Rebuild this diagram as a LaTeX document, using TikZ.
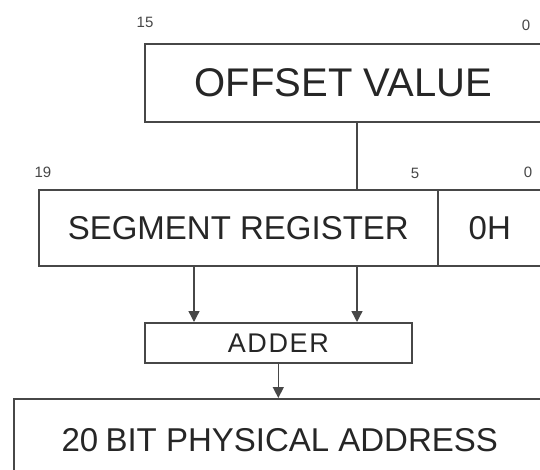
\documentclass[tikz,border=0pt]{standalone}
\usepackage{fontspec}
\setmainfont{Liberation Sans}
\usetikzlibrary{arrows.meta}
\definecolor{ink}{HTML}{262626}
\definecolor{edge}{HTML}{474747}
\tikzset{
  regbox/.style={draw=edge, line width=1.6pt, fill=white, anchor=north west,
    inner sep=0pt, text=ink},
  bitlbl/.style={text=ink!85, font=\fontsize{15}{15}\selectfont, inner sep=0pt},
  flow/.style={draw=edge, line width=1.4pt,
    -{Triangle[length=11pt, width=11pt]}},
  wire/.style={draw=edge, line width=1.4pt}
}
\begin{document}
\begin{tikzpicture}[x=1pt, y=-1pt]
  \useasboundingbox[fill=white] (0,0) rectangle (540,470);

  % offset register
  \node[regbox, minimum width=397pt, minimum height=78pt,
        font=\fontsize{40}{40}\selectfont] (offset) at (144,43) {OFFSET VALUE};
  \node[bitlbl] (o15) at (145,22) {15};
  \node[bitlbl] (o0) at (526,25) {0};

  % segment register with the appended zero nibble
  \node[regbox, minimum width=399pt, minimum height=76pt,
        font=\fontsize{33}{33}\selectfont] (seg) at (38,189) {SEGMENT REGISTER};
  \node[regbox, minimum width=104pt, minimum height=76pt,
        font=\fontsize{33}{33}\selectfont] (zero) at (437,189) {0H};
  \node[bitlbl] (s19) at (43,172) {19};
  \node[bitlbl] (s5) at (415,173) {5};
  \node[bitlbl] (s0) at (528,172) {0};

  % adder
  \node[regbox, minimum width=267pt, minimum height=40pt,
        font=\fontsize{27}{27}\selectfont] (adder) at (144,322)
        {\addfontfeatures{LetterSpace=6}ADDER};

  % result
  \node[regbox, minimum width=532pt, minimum height=82pt,
        font=\fontsize{33}{33}\selectfont] (phys) at (13,398)
        {20\hspace{-2pt} BIT PHYSICAL ADDRESS};

  % connectors
  \coordinate (rx) at (357,0);
  \coordinate (lx) at (194,0);
  \draw[wire] (offset.south -| rx) -- (seg.north -| rx);
  \draw[flow] (seg.south -| rx) -- (adder.north -| rx);
  \draw[flow] (seg.south -| lx) -- (adder.north -| lx);
  \draw[flow] (adder.south) -- (adder.south |- phys.north);
\end{tikzpicture}
\end{document}
